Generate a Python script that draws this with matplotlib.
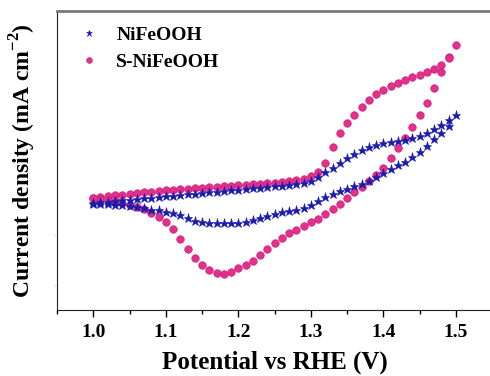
import numpy as np
import matplotlib.pyplot as plt

plt.rcParams['font.family'] = ['Liberation Serif', 'DejaVu Serif']
plt.rcParams['mathtext.fontset'] = 'custom'
plt.rcParams['mathtext.rm'] = 'Liberation Serif:bold'
plt.rcParams['mathtext.bf'] = 'Liberation Serif:bold'

# potential sweep, V vs RHE (10 mV steps)
potential = np.round(np.arange(1.0, 1.501, 0.01), 2)

# anodic (forward) and cathodic (reverse) currents, both listed from 1.00 V to 1.50 V
nifeooh_fwd = [0.64, 0.66, 0.67, 0.68, 0.70, 0.71, 0.72, 0.74, 0.75, 0.76,
               0.78, 0.79, 0.80, 0.82, 0.83, 0.84, 0.86, 0.87, 0.88, 0.90,
               0.91, 0.92, 0.94, 0.95, 0.96, 0.98, 0.99, 1.00, 1.02, 1.04,
               1.09, 1.16, 1.26, 1.34, 1.44, 1.54, 1.62, 1.70, 1.76, 1.81,
               1.84, 1.86, 1.88, 1.90, 1.94, 1.98, 2.04, 2.12, 2.20, 2.30,
               2.40]
nifeooh_rev = [0.63, 0.62, 0.62, 0.60, 0.60, 0.58, 0.56, 0.54, 0.51, 0.50,
               0.46, 0.44, 0.40, 0.34, 0.28, 0.26, 0.24, 0.24, 0.24, 0.24,
               0.24, 0.26, 0.30, 0.34, 0.38, 0.42, 0.46, 0.48, 0.50, 0.55,
               0.60, 0.68, 0.76, 0.82, 0.88, 0.92, 0.98, 1.02, 1.08, 1.16,
               1.24, 1.32, 1.40, 1.46, 1.56, 1.66, 1.78, 1.92, 2.04, 2.18,
               2.36]
s_nifeooh_fwd = [0.74, 0.76, 0.78, 0.80, 0.81, 0.83, 0.84, 0.86, 0.87, 0.88,
                 0.90, 0.91, 0.92, 0.93, 0.94, 0.95, 0.96, 0.97, 0.98, 0.99,
                 1.00, 1.01, 1.02, 1.03, 1.04, 1.05, 1.06, 1.08, 1.10, 1.13,
                 1.18, 1.26, 1.44, 1.76, 2.04, 2.24, 2.40, 2.56, 2.70, 2.82,
                 2.90, 2.98, 3.04, 3.10, 3.16, 3.20, 3.26, 3.32, 3.40, 3.56,
                 3.80]
s_nifeooh_rev = [0.74, 0.72, 0.70, 0.68, 0.64, 0.60, 0.56, 0.52, 0.44, 0.36,
                 0.26, 0.12, -0.08, -0.28, -0.46, -0.60, -0.70, -0.76, -0.77, -0.74,
                 -0.66, -0.60, -0.52, -0.40, -0.28, -0.16, -0.06, 0.04, 0.10, 0.18,
                 0.26, 0.32, 0.42, 0.52, 0.62, 0.74, 0.86, 0.96, 1.08, 1.20,
                 1.34, 1.54, 1.74, 1.94, 2.16, 2.40, 2.64, 2.94, 3.26, 3.54,
                 3.80]


def cv_loop(fwd, rev):
    x = np.concatenate([potential, potential[::-1][1:]])
    y = np.concatenate([fwd, np.asarray(rev)[::-1][1:]])
    return x, y


fig = plt.figure(figsize=(4.9, 3.76), dpi=100)
ax = fig.add_axes([0.1163, 0.1755, 0.8880, 0.7952])

xs, ys = cv_loop(s_nifeooh_fwd, s_nifeooh_rev)
h_s, = ax.plot(xs, ys, linestyle='none', marker='o', markersize=5.4,
               markerfacecolor='#e3308c', markeredgecolor='#cc1f78',
               markeredgewidth=0.5, label='S-NiFeOOH')
xb, yb = cv_loop(nifeooh_fwd, nifeooh_rev)
h_b, = ax.plot(xb, yb, linestyle='none', marker='*', markersize=6.5,
               markerfacecolor='#1a1aae', markeredgecolor='#1a1aae',
               markeredgewidth=0.4, label='NiFeOOH')

ax.set_xlim(0.9518, 1.5482)
ax.set_ylim(-1.5, 4.48)

ax.set_xticks([1.0, 1.1, 1.2, 1.3, 1.4, 1.5])
ax.set_xticks(np.arange(0.95, 1.56, 0.1), minor=True)
ax.set_yticks([-1, 0])
ax.set_yticklabels([])
ax.tick_params(axis='x', which='major', direction='out', length=5, width=1,
               labelsize=14, pad=5)
ax.tick_params(axis='x', which='minor', direction='out', length=3, width=1)
ax.tick_params(axis='y', direction='out', length=3, width=0.8, color='#e6e6e6')
for lbl in ax.get_xticklabels():
    lbl.set_fontweight('bold')

ax.spines['left'].set_color('#222222')
ax.spines['bottom'].set_color('#222222')
ax.spines['top'].set_color('#7a7a7a')
ax.spines['top'].set_linewidth(2)
ax.spines['right'].set_visible(False)

ax.set_xlabel('Potential vs RHE (V)', fontsize=18, fontweight='bold', labelpad=7)
ax.set_ylabel('Current density (mA cm$^{\\mathbf{-2}}$)', fontsize=17,
              fontweight='bold', labelpad=7)

ax.legend(handles=[h_b, h_s], loc='upper left', frameon=False,
          prop={'weight': 'bold', 'size': 14}, handlelength=1.0,
          handletextpad=0.9, labelspacing=0.5, borderaxespad=0.3,
          markerscale=0.75, bbox_to_anchor=(0.02, 0.995))

fig.savefig('out.png', dpi=100)
